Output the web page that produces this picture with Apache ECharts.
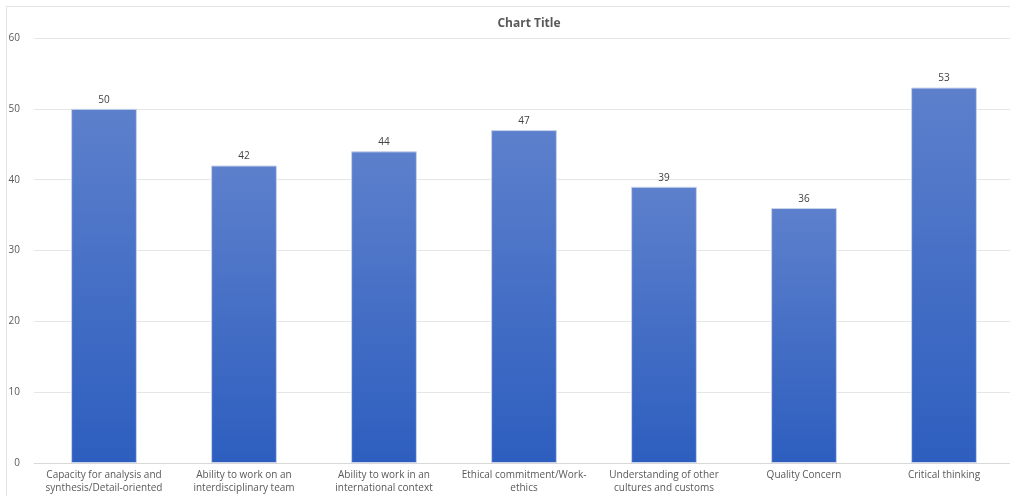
<!DOCTYPE html>
<html><head><meta charset="utf-8">
<script src="https://cdn.jsdelivr.net/npm/echarts@6/dist/echarts.min.js"></script>
<style>html,body{margin:0;padding:0;background:#fff;overflow:hidden;}#c{width:1024px;height:496px;}
#frame{position:absolute;left:6px;top:6px;width:1010px;height:500px;border:1px solid #e3e3e3;box-sizing:border-box;pointer-events:none;}</style>
</head><body><div id="c"></div><div id="frame"></div>
<script>
const categories = ["Capacity for analysis and\nsynthesis/Detail-oriented","Ability to work on an\ninterdisciplinary team","Ability to work in an\ninternational context","Ethical commitment/Work-\nethics","Understanding of other\ncultures and customs","Quality Concern","Critical thinking"];
const values = [50,42,44,47,39,36,53];
const yTicks = [0,10,20,30,40,50,60];
const chart = echarts.init(document.getElementById('c'));
chart.setOption({
  animation:false,
  title:{text:'Chart Title',left:524,top:13,textAlign:'center',textStyle:{fontSize:12,fontWeight:'bold',color:'#595959',fontFamily:'Open Sans'}},
  grid:{left:34,top:38,width:980,bottom:33},
  xAxis:{type:'category',data:categories,axisTick:{show:false},axisLine:{lineStyle:{color:'#d9d9d9'}},
    axisLabel:{color:'#595959',fontSize:10,fontFamily:'Open Sans',interval:0,lineHeight:13,margin:6}},
  yAxis:{type:'value',min:yTicks[0],max:yTicks[yTicks.length-1],interval:10,axisLabel:{color:'#595959',fontSize:10,fontFamily:'Open Sans',margin:14},
    splitLine:{lineStyle:{color:'#e6e6e6'}}},
  series:[{type:'bar',data:values,barWidth:'47%',
    itemStyle:{borderColor:'#c9d3ea',borderWidth:1,color:new echarts.graphic.LinearGradient(0,0,0,1,[{offset:0,color:'#5d80cc'},{offset:1,color:'#2d5ebf'}])},
    label:{show:true,position:'top',color:'#404040',fontSize:10,fontFamily:'Open Sans',distance:4}}]
});
</script></body></html>
